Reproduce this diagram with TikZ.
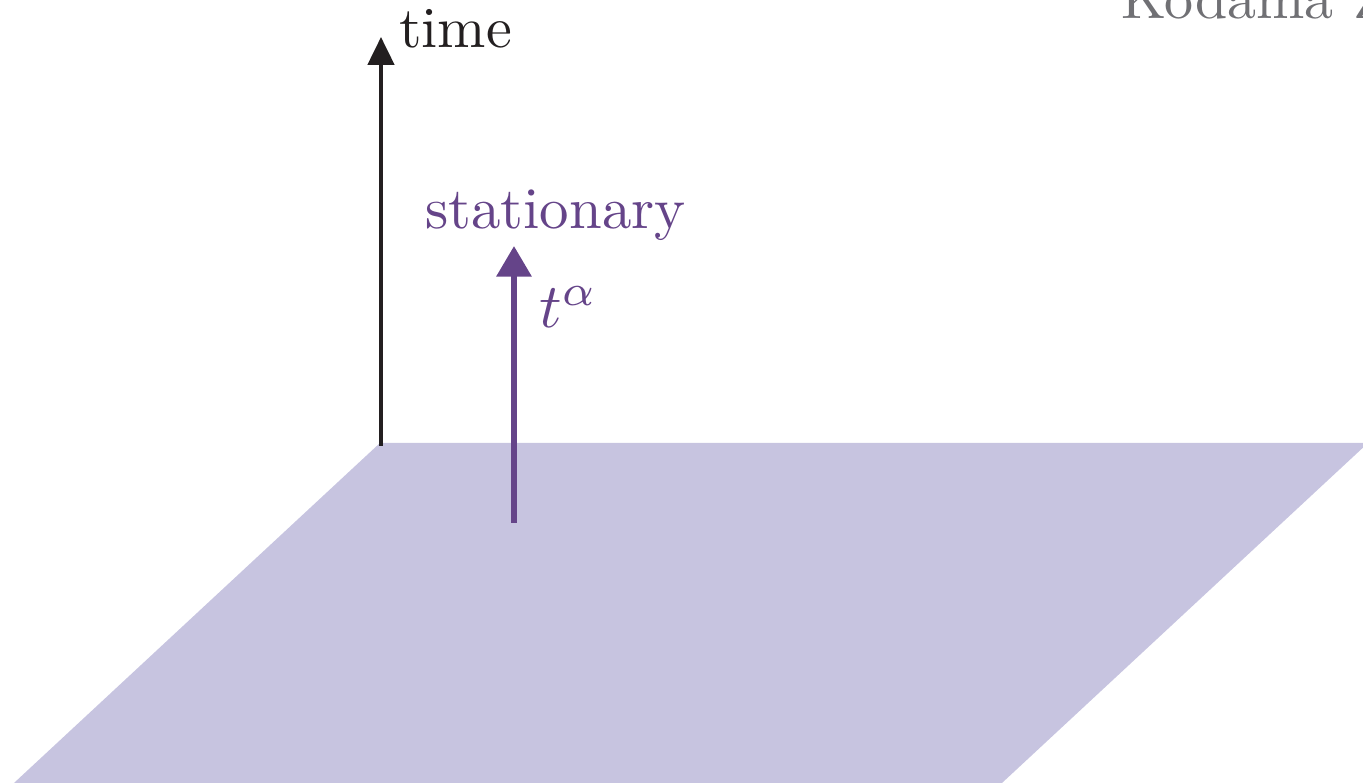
\documentclass[tikz,border=0pt]{standalone}
\usetikzlibrary{arrows.meta}
\definecolor{planefill}{RGB}{199,196,224}
\definecolor{statpurple}{RGB}{101,68,137}
\definecolor{timeblack}{RGB}{35,31,32}
\definecolor{kgray}{RGB}{112,112,116}
\tikzset{
  plane/.style={fill=planefill, draw=none},
  timearrow/.style={draw=timeblack, line width=0.7pt, -{Triangle[length=4.8pt,width=4.5pt]}},
  statarrow/.style={draw=statpurple, line width=1.05pt, -{Triangle[length=5.3pt,width=5.9pt]}},
  lbl/.style={inner sep=0pt, anchor=base west},
}
\begin{document}
\begin{tikzpicture}[x=0.17241pt, y=-0.17241pt]
\useasboundingbox (0,0) rectangle (1363,783);
\clip (0,0) rectangle (1363,783);
% plane
\fill[plane] (380,443) -- (1368,443) -- (1002,783) -- (14,783) -- cycle;
% coordinates
\coordinate (tb) at (381,446);
\coordinate (tt) at (381,37);
\coordinate (sb) at (514,523);
\coordinate (st) at (514,246);
\draw[timearrow] (tb) -- (tt);
\draw[statarrow] (sb) -- (st);
\node[lbl, text=timeblack] (time) at (398,48) {time};
\node[lbl, text=statpurple, scale=1.015] (stat) at (424,229) {stationary};
\node[lbl, text=statpurple, scale=1.08] (talpha) at (538,328) {$t^{\alpha}$};
\node[lbl, text=kgray] (kod) at (1120,19) {Kodama Z};
\end{tikzpicture}
\end{document}
